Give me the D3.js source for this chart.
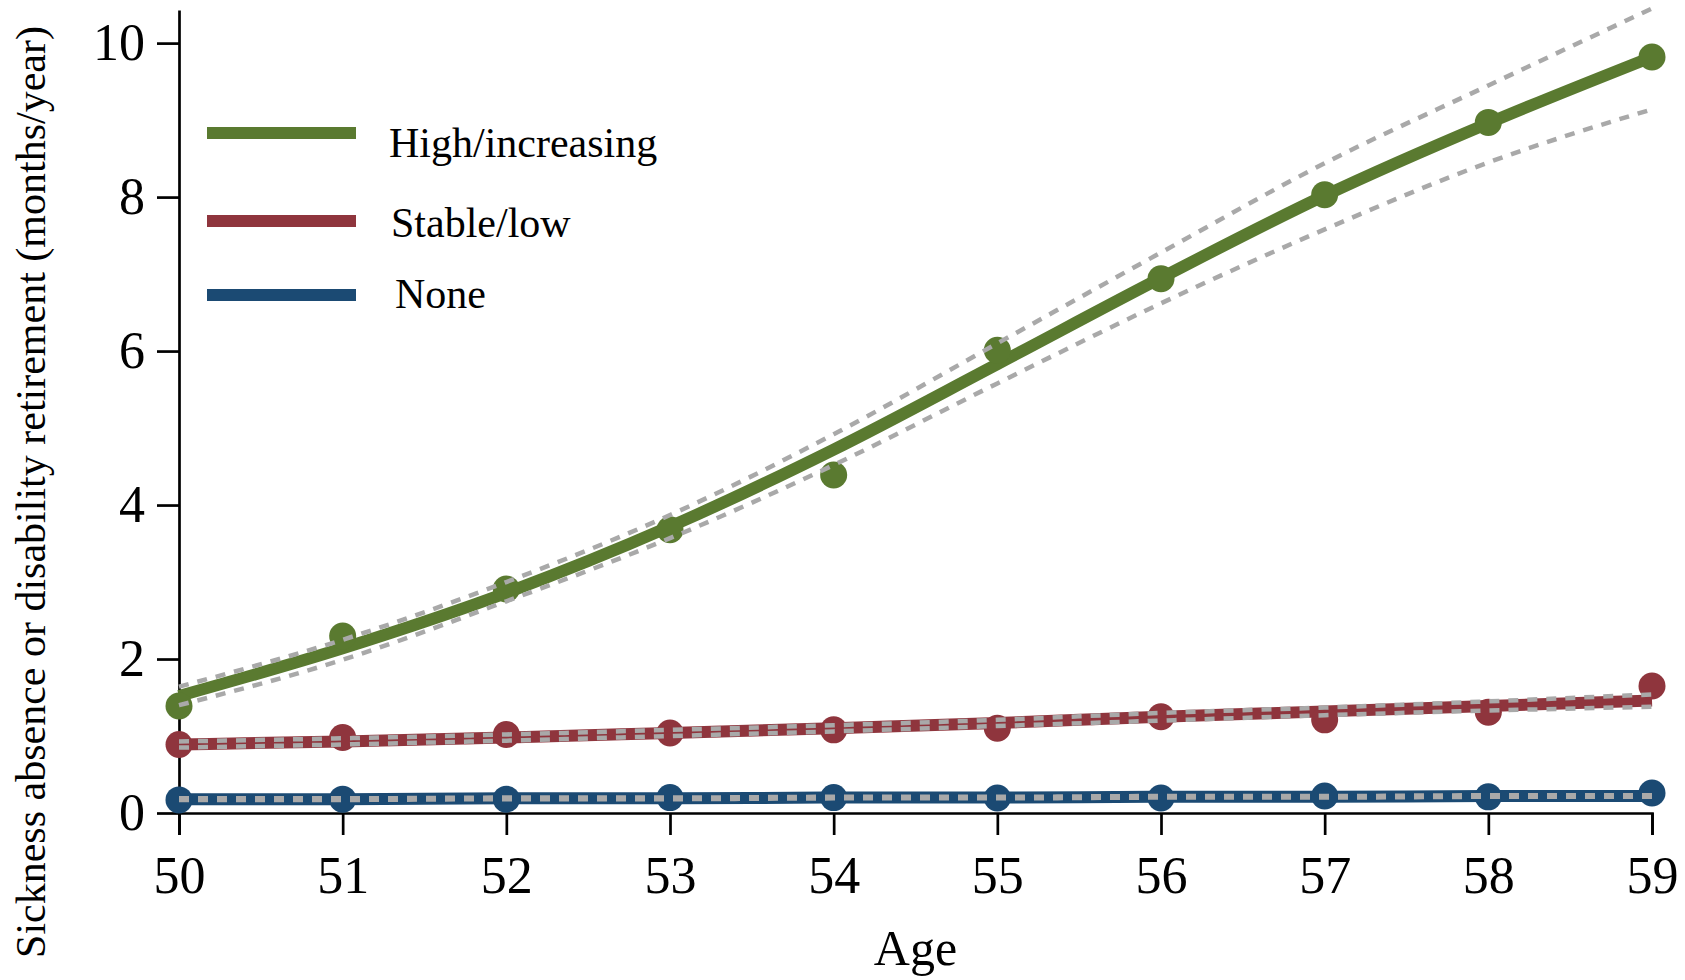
<!DOCTYPE html>
<html>
<head>
<meta charset="utf-8">
<script src="https://cdn.jsdelivr.net/npm/d3@7"></script>
<style>
  body { margin: 0; background: #fff; }
  svg { display: block; }
  .axis path, .axis line { stroke: #000; stroke-width: 2.7; }
  .axis text { font-family: "Liberation Serif", "Times New Roman", serif; font-size: 52px; fill: #000; }
  .title, .legend text { font-family: "Liberation Serif", "Times New Roman", serif; fill: #000; }
</style>
</head>
<body>
<svg id="chart" width="1685" height="980"></svg>
<script>
const ages = [50, 51, 52, 53, 54, 55, 56, 57, 58, 59];
const yTicks = [0, 2, 4, 6, 8, 10];

const groups = ['High/increasing', 'Stable/low', 'None'];
const colors = ['#5a7a30', '#8f353d', '#1b4a73'];

// observed means
const highObs = [1.39, 2.30, 2.91, 3.68, 4.39, 6.01, 6.94, 8.03, 8.97, 9.82];
const lowObs = [0.89, 0.98, 1.02, 1.04, 1.08, 1.10, 1.25, 1.21, 1.31, 1.65];
const noneObs = [0.17, 0.18, 0.18, 0.20, 0.20, 0.195, 0.195, 0.22, 0.21, 0.26];

// fitted trajectories and 95% CI
const highFit = [1.52, 2.14, 2.86, 3.72, 4.72, 5.83, 6.95, 8.02, 8.96, 9.82];
const highLo = [1.40, 1.99, 2.75, 3.57, 4.52, 5.58, 6.62, 7.58, 8.45, 9.14];
const highHi = [1.64, 2.25, 3.00, 3.87, 4.92, 6.10, 7.28, 8.44, 9.45, 10.45];
const lowFit = [0.89, 0.93, 0.98, 1.04, 1.10, 1.17, 1.25, 1.32, 1.39, 1.46];
const lowLo = [0.85, 0.89, 0.94, 1.00, 1.06, 1.13, 1.20, 1.27, 1.33, 1.38];
const lowHi = [0.93, 0.97, 1.02, 1.08, 1.14, 1.21, 1.30, 1.37, 1.45, 1.54];
const noneFit = [0.18, 0.18, 0.19, 0.19, 0.20, 0.20, 0.21, 0.21, 0.22, 0.22];
const noneLo = [0.17, 0.17, 0.18, 0.18, 0.19, 0.19, 0.20, 0.20, 0.21, 0.21];
const noneHi = [0.19, 0.19, 0.20, 0.20, 0.21, 0.21, 0.22, 0.22, 0.23, 0.23];

const series = [
  {obs: highObs, fit: highFit, lo: highLo, hi: highHi},
  {obs: lowObs, fit: lowFit, lo: lowLo, hi: lowHi},
  {obs: noneObs, fit: noneFit, lo: noneLo, hi: noneHi}
];

const svg = d3.select('#chart');
const margin = {left: 179, right: 33, top: 10, bottom: 167};
const width = 1685 - margin.left - margin.right;
const height = 980 - margin.top - margin.bottom;

const chart = svg.append('g')
  .attr('transform', 'translate(' + margin.left + ',' + margin.top + ')');

const x = d3.scaleLinear().domain([50, 59]).range([0, width]);
const y = d3.scaleLinear().domain([0, 10.43]).range([height, 0]);

chart.append('g')
  .attr('class', 'axis axis--x')
  .attr('transform', 'translate(0,' + height + ')')
  .call(d3.axisBottom(x).tickValues(ages).tickFormat(d3.format('d')).tickSize(22).tickSizeOuter(22).tickPadding(21));

chart.append('g')
  .attr('class', 'axis axis--y')
  .call(d3.axisLeft(y).tickValues(yTicks).tickSize(22).tickSizeOuter(0).tickPadding(12));

const line = d3.line()
  .x((d, i) => x(ages[i]))
  .y(d => y(d))
  .curve(d3.curveMonotoneX);

series.forEach((s, k) => {
  chart.append('path')
    .attr('d', line(s.fit))
    .attr('fill', 'none')
    .attr('stroke', colors[k])
    .attr('stroke-width', 12);

  chart.append('g')
    .selectAll('circle')
    .data(s.obs)
    .enter().append('circle')
    .attr('cx', (d, i) => x(ages[i]))
    .attr('cy', d => y(d))
    .attr('r', 13.5)
    .attr('fill', colors[k]);
});

series.forEach(s => {
  [s.lo, s.hi].forEach(band => {
    chart.append('path')
      .attr('d', line(band))
      .attr('fill', 'none')
      .attr('stroke', '#a9a9a9')
      .attr('stroke-width', 4.5)
      .attr('stroke-dasharray', '10,9');
  });
});

// legend
const legendY = [133, 221, 295];
const legendTextY = [157, 237, 308];
const legendTextX = [389, 391, 395];
const legend = svg.append('g').attr('class', 'legend');
groups.forEach((g, k) => {
  legend.append('line')
    .attr('x1', 207).attr('x2', 356)
    .attr('y1', legendY[k]).attr('y2', legendY[k])
    .attr('stroke', colors[k])
    .attr('stroke-width', 12);
  legend.append('text')
    .attr('x', legendTextX[k])
    .attr('y', legendTextY[k])
    .attr('font-size', 42)
    .text(g);
});

svg.append('text')
  .attr('class', 'title')
  .attr('x', margin.left + width / 2)
  .attr('y', 965)
  .attr('text-anchor', 'middle')
  .attr('font-size', 50)
  .text('Age');

svg.append('text')
  .attr('class', 'title')
  .attr('transform', 'translate(45,' + (margin.top + 482) + ') rotate(-90)')
  .attr('text-anchor', 'middle')
  .attr('font-size', 42)
  .text('Sickness absence or disability retirement (months/year)');
</script>
</body>
</html>
